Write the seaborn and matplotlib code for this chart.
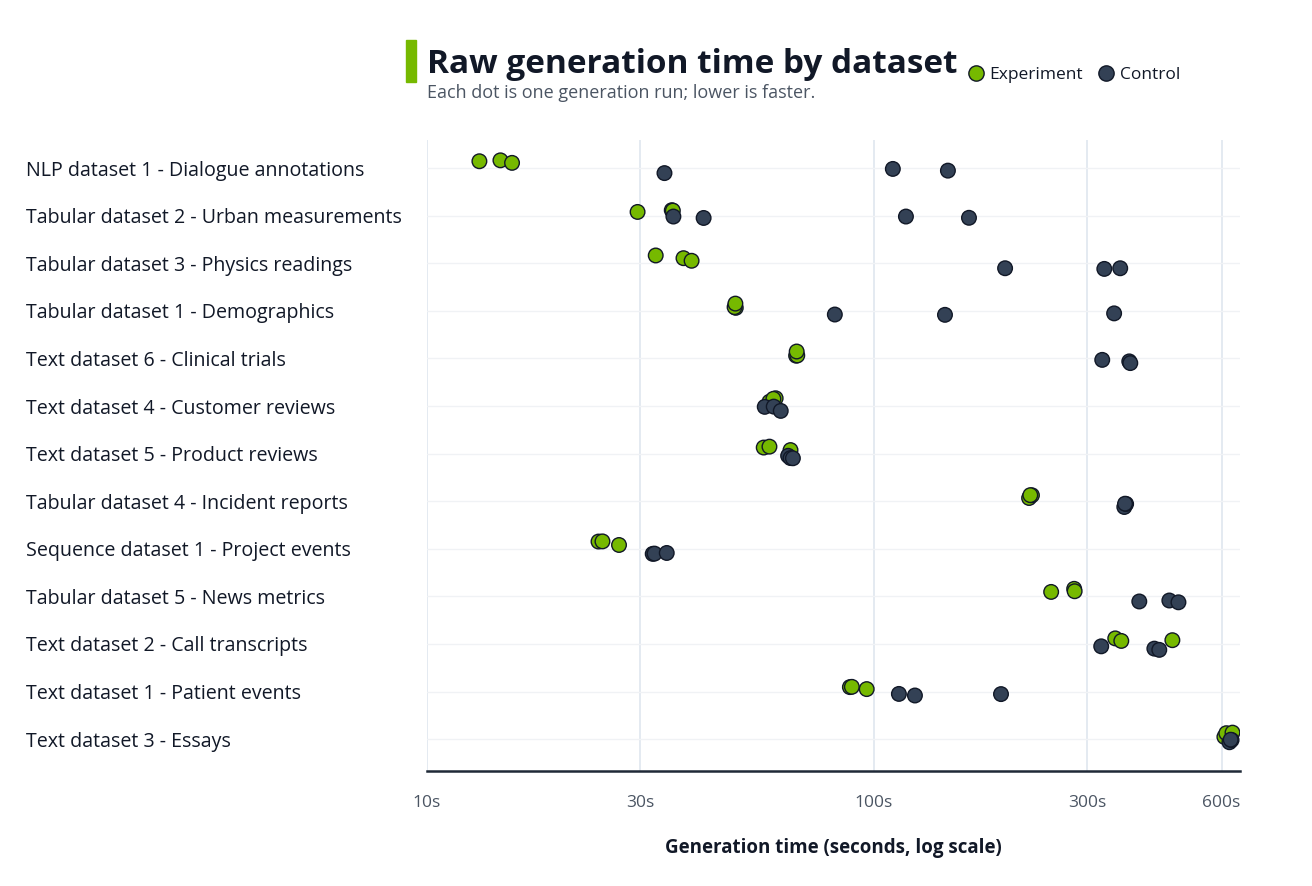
import matplotlib.pyplot as plt
import matplotlib.transforms as mtransforms
from matplotlib.lines import Line2D
from matplotlib.patches import Rectangle
from matplotlib.ticker import NullLocator
import numpy as np
import pandas as pd
import seaborn as sns

# %%
datasets = [
  "NLP dataset 1 - Dialogue annotations",
  "Tabular dataset 2 - Urban measurements",
  "Tabular dataset 3 - Physics readings",
  "Tabular dataset 1 - Demographics",
  "Text dataset 6 - Clinical trials",
  "Text dataset 4 - Customer reviews",
  "Text dataset 5 - Product reviews",
  "Tabular dataset 4 - Incident reports",
  "Sequence dataset 1 - Project events",
  "Tabular dataset 5 - News metrics",
  "Text dataset 2 - Call transcripts",
  "Text dataset 1 - Patient events",
  "Text dataset 3 - Essays",
]
experiment_times = [
  [13.1, 14.6, 15.5],
  [29.6, 35.3, 35.5],
  [32.5, 37.5, 39.1],
  [49.1, 48.8, 49.0],
  [67.0, 67.4, 67.2],
  [58.4, 60.3, 59.6],
  [56.7, 58.4, 65.1],
  [222.6, 225.9, 224.0],
  [24.2, 24.7, 26.9],
  [249.4, 280.8, 281.5],
  [347.0, 358.0, 465.8],
  [88.4, 89.3, 96.4],
  [609.0, 615.0, 635.0],
]
control_times = [
  [34.0, 110.3, 146.5],
  [35.6, 41.6, 118.0, 163.3],
  [196.7, 328.0, 356.0],
  [81.8, 144.3, 345.0],
  [324.5, 373.0, 375.0],
  [57.0, 59.7, 61.9],
  [64.3, 65.1, 65.9],
  [363.6, 367.0, 365.0],
  [32.0, 32.3, 34.4],
  [392.8, 458.6, 480.6],
  [322.8, 424.5, 435.4],
  [113.8, 123.6, 192.6],
  [625.0, 632.0, 629.0],
]
groups = ["Experiment", "Control"]
x_ticks = [10, 30, 100, 300, 600]
x_tick_labels = ["10s", "30s", "100s", "300s", "600s"]

rows = []
for name, exp, ctl in zip(datasets, experiment_times, control_times):
  rows += [(name, "Experiment", v) for v in exp]
  rows += [(name, "Control", v) for v in ctl]
df = pd.DataFrame(rows, columns=["dataset", "group", "seconds"])

# %%
GREEN = "#76b900"
SLATE = "#334155"
INK = "#111827"
MUTED = "#4b5563"
palette = {"Experiment": GREEN, "Control": SLATE}

sns.set_theme(style="white")
plt.rcParams["font.family"] = ["Open Sans", "DejaVu Sans"]
np.random.seed(11)

W, H = 1312, 886
fig = plt.figure(figsize=(W / 100, H / 100), dpi=100)
ax = fig.add_axes([427 / W, 1 - 771 / H, (1240 - 427) / W, (771 - 140) / H])
ax.set_xscale("log")

# small vertical nudge per group (green above, control below the row line)
shifts = {"Experiment": 3.6, "Control": -2.4}
for g in groups:
  nudge = mtransforms.ScaledTranslation(0, shifts[g] / 72, fig.dpi_scale_trans)
  sns.stripplot(
    data=df[df["group"] == g],
    x="seconds",
    y="dataset",
    order=datasets,
    hue="group",
    palette=palette,
    jitter=0.06,
    size=10.5,
    edgecolor="#111827",
    linewidth=1,
    legend=False,
    ax=ax,
    transform=ax.transData + nudge,
    zorder=3,
  )

ax.set_xlim(10, 660)
ax.set_ylim(12.67, -0.59)
ax.set_xticks(x_ticks)
ax.set_xticklabels(x_tick_labels)
ax.xaxis.set_minor_locator(NullLocator())
ax.grid(axis="x", color="#e2e8f0", linewidth=1.3)
ax.grid(axis="y", color="#f0f2f5", linewidth=1.0)
ax.set_axisbelow(True)
for side in ["left", "top", "right"]:
  ax.spines[side].set_visible(False)
ax.spines["bottom"].set_color("#1f2937")
ax.spines["bottom"].set_linewidth(1.8)

ax.tick_params(axis="x", length=0, pad=17, labelsize=12.5, labelcolor=MUTED)
ax.tick_params(axis="y", length=0, pad=289, labelsize=14.1, labelcolor=INK)
for t in ax.get_yticklabels():
  t.set_ha("left")
ax.set_ylabel("")
ax.set_xlabel(
  "Generation time (seconds, log scale)",
  fontsize=13.5,
  fontweight="bold",
  color=INK,
)
ax.xaxis.set_label_coords(0.5, -0.106)

# title block
fig.add_artist(Rectangle(
  (406 / W, 1 - 82 / H), 10 / W, 42 / H,
  transform=fig.transFigure, color=GREEN,
))
fig.text(
  427 / W, 1 - 73 / H, "Raw generation time by dataset",
  fontsize=24, fontweight="bold", color=INK, va="baseline",
)
fig.text(
  427 / W, 1 - 98 / H, "Each dot is one generation run; lower is faster.",
  fontsize=13, color=MUTED, va="baseline",
)
handles = [
  Line2D([], [], linestyle="", marker="o", markersize=11,
         markerfacecolor=palette[g], markeredgecolor="#111827",
         markeredgewidth=1, label=g)
  for g in groups
]
fig.legend(
  handles=handles,
  loc="center left",
  bbox_to_anchor=(967 / W, 1 - 74.5 / H),
  ncol=2,
  frameon=False,
  fontsize=12.5,
  handlelength=1.0,
  handletextpad=0.3,
  columnspacing=0.8,
  borderaxespad=0,
  borderpad=0,
)
for t in fig.legends[0].get_texts():
  t.set_color(INK)

plt.savefig("out.png", dpi=100)
